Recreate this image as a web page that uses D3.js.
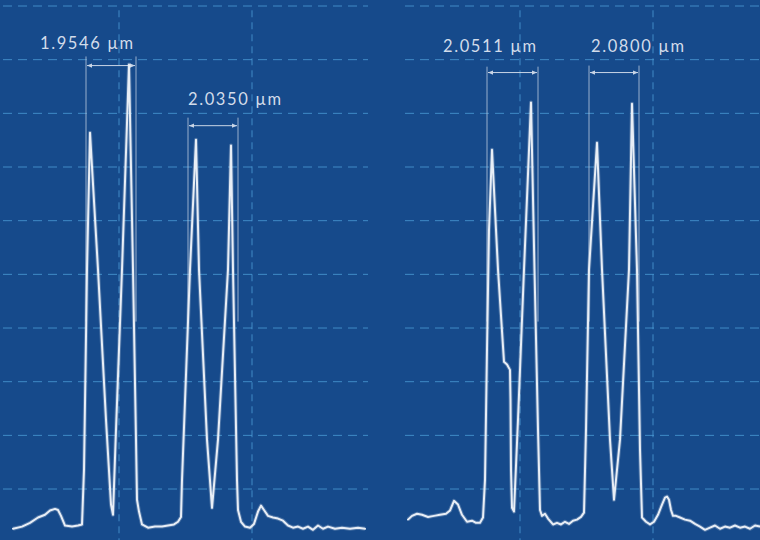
<!DOCTYPE html>
<html>
<head>
<meta charset="utf-8">
<script src="https://cdn.jsdelivr.net/npm/d3@7"></script>
<style>
  html, body { margin: 0; padding: 0; background: #174a8b; }
  svg { display: block; }
</style>
</head>
<body>
<svg width="760" height="540"></svg>
<script>
let width = 760, height = 540;

// Intensity grid levels (arbitrary units)
const yTicks = [10, 20, 30, 40, 50, 60, 70, 80, 90, 100];

// Left spectrum: [sample, intensity]
const leftX = [13, 22, 30, 38, 45, 50, 55, 58, 61, 65, 72, 78, 82, 84, 87, 90, 98, 106, 111, 113,
  116, 122, 129, 133, 136, 137, 139, 142, 148, 155, 162, 168, 174, 178, 181, 182, 190, 196, 199, 207,
  212, 218, 228, 231, 233, 237, 238, 241, 245, 250, 254, 258, 261, 264, 268, 273, 278, 283, 288, 293,
  298, 303, 308, 313, 318, 323, 328, 335, 342, 350, 358, 365];
const leftY = [2.6, 3.0, 3.7, 4.7, 5.2, 6.0, 6.3, 6.1, 5.0, 3.2, 3.0, 3.2, 3.4, 13.6, 50.9, 76.4, 50.9, 22.9, 7.1, 5.2,
  21.1, 50.9, 89.1, 50.9, 19.2, 8.0, 5.8, 3.4, 2.8, 3.0, 3.0, 3.2, 3.4, 3.9, 4.8, 11.7, 50.9, 75.1, 50.9, 19.2,
  6.5, 19.2, 50.9, 74.0, 50.9, 11.7, 6.1, 3.9, 3.0, 2.8, 3.5, 5.8, 6.9, 6.1, 5.0, 4.7, 4.5, 4.1, 3.2, 2.8,
  3.0, 2.6, 3.0, 2.4, 3.2, 2.6, 3.0, 2.6, 2.8, 2.6, 2.8, 2.6];

// Right spectrum: [sample, intensity]
const rightX = [3, 7, 12, 17, 23, 29, 35, 41, 45, 49, 53, 57, 62, 67, 71, 75, 78, 80, 82, 84,
  87, 93, 99, 102, 105, 105.5, 106, 107, 109, 113, 119, 126, 129.5, 133, 135, 137, 140, 143, 148, 152,
  156, 160, 164, 168, 172, 176, 179, 181, 184, 192, 197, 205, 209, 215, 224, 227, 232, 235, 237,
  241, 245, 249, 253, 257, 260, 262, 264, 266, 268, 271, 275, 280, 285, 290, 295, 300, 305, 310, 315,
  320, 325, 330, 335, 340, 345, 350, 355];
const rightY = [4.3, 5.0, 5.4, 5.2, 4.8, 5.0, 5.2, 5.4, 6.0, 7.8, 7.1, 5.2, 3.9, 4.1, 3.7, 3.7, 4.7, 11.7, 36.0, 58.3,
  73.2, 50.9, 33.7, 33.2, 32.2, 26.6, 13.6, 6.5, 5.8, 22.9, 50.9, 82.0, 50.9, 21.1, 6.1, 5.0, 5.4, 4.5, 3.4, 3.7,
  3.4, 3.9, 3.5, 4.1, 4.3, 4.8, 5.6, 21.1, 50.9, 74.5, 50.9, 19.2, 8.0, 19.2, 50.9, 81.8, 50.9, 17.3, 4.7,
  3.9, 3.4, 3.9, 5.2, 7.1, 8.4, 8.6, 8.0, 6.1, 5.0, 5.0, 4.7, 4.3, 4.1, 3.5, 3.0, 2.4, 2.8, 3.2, 2.6,
  3.0, 2.8, 3.2, 2.8, 3.0, 2.6, 3.2, 3.0];

// Peak separation annotations
const leftNotes = [
  { x1: 86, x2: 136, top: 90.6, arrow: 88.9, label: "1.9546 µm", lx: 40, ly: 92.0 },
  { x1: 188, x2: 238, top: 79.2, arrow: 77.7, label: "2.0350 µm", lx: 188, ly: 81.6 }
];
const rightNotes = [
  { x1: 82, x2: 133, top: 88.7, arrow: 87.6, label: "2.0511 µm", lx: 38, ly: 91.5 },
  { x1: 184, x2: 234, top: 88.9, arrow: 87.6, label: "2.0800 µm", lx: 186, ly: 91.5 }
];
const noteBottom = 41.2;

const panels = [
  { xs: leftX, ys: leftY, notes: leftNotes, domain: [0, 365], range: [0, 365], gridX: [119, 252], span: [3, 368] },
  { xs: rightX, ys: rightY, notes: rightNotes, domain: [0, 355], range: [405, 760], gridX: [115, 248], span: [0, 360] }
];

const y = d3.scaleLinear().domain([0, 100]).range([542.7, 6]);

const svg = d3.select("svg");
svg.append("rect").attr("width", width).attr("height", height).attr("fill", "#164a8b");

const defs = svg.append("defs");
defs.append("marker")
  .attr("id", "arrow")
  .attr("viewBox", "0 0 6 6")
  .attr("refX", 6).attr("refY", 3)
  .attr("markerWidth", 5).attr("markerHeight", 5)
  .attr("orient", "auto-start-reverse")
  .append("path")
  .attr("d", "M0,0.5 L6,3 L0,5.5 z")
  .attr("fill", "#c9d5e6");

panels.forEach(function (p) {
  const x = d3.scaleLinear().domain(p.domain).range(p.range);
  const g = svg.append("g");

  // horizontal grid
  g.append("g").selectAll("line")
    .data(yTicks)
    .enter().append("line")
    .attr("x1", x(p.span[0])).attr("x2", x(p.span[1]))
    .attr("y1", d => y(d)).attr("y2", d => y(d))
    .attr("stroke", "#4b9bd6")
    .attr("stroke-opacity", 0.8)
    .attr("stroke-width", 1)
    .attr("stroke-dasharray", "9,6");

  // vertical grid
  g.append("g").selectAll("line")
    .data(p.gridX)
    .enter().append("line")
    .attr("x1", d => x(d)).attr("x2", d => x(d))
    .attr("y1", y(99.2)).attr("y2", height)
    .attr("stroke", "#4b9bd6")
    .attr("stroke-opacity", 0.8)
    .attr("stroke-width", 1)
    .attr("stroke-dasharray", "7,5");

  // annotations
  const notes = g.append("g").selectAll("g")
    .data(p.notes)
    .enter().append("g");

  notes.each(function (d) {
    const n = d3.select(this);
    [d.x1, d.x2].forEach(function (xv) {
      n.append("line")
        .attr("x1", x(xv)).attr("x2", x(xv))
        .attr("y1", y(d.top)).attr("y2", y(noteBottom))
        .attr("stroke", "#b9c9de")
        .attr("stroke-opacity", 0.8)
        .attr("stroke-width", 1);
    });
    n.append("line")
      .attr("x1", x(d.x1) + 1).attr("x2", x(d.x2) - 1)
      .attr("y1", y(d.arrow)).attr("y2", y(d.arrow))
      .attr("stroke", "#c9d5e6")
      .attr("stroke-width", 1)
      .attr("marker-start", "url(#arrow)")
      .attr("marker-end", "url(#arrow)");
    n.append("text")
      .attr("x", x(d.lx))
      .attr("y", y(d.ly))
      .attr("fill", "#d2dcea")
      .style("font-family", "Lato, 'Open Sans', sans-serif")
      .style("font-size", "16.5px")
      .style("font-weight", 400)
      .style("letter-spacing", "1.6px")
      .text(d.label);
  });

  // spectrum line
  const line = d3.line()
    .x((d, i) => x(p.xs[i]))
    .y((d, i) => y(p.ys[i]));

  g.append("path")
    .attr("d", line(p.xs))
    .attr("fill", "none")
    .attr("stroke", "#ffffff")
    .attr("stroke-opacity", 0.22)
    .attr("stroke-width", 4)
    .attr("stroke-linejoin", "round");

  g.append("path")
    .attr("d", line(p.xs))
    .attr("fill", "none")
    .attr("stroke", "#e8eef6")
    .attr("stroke-width", 2)
    .attr("stroke-linejoin", "round")
    .attr("stroke-linecap", "round");
});
</script>
</body>
</html>
